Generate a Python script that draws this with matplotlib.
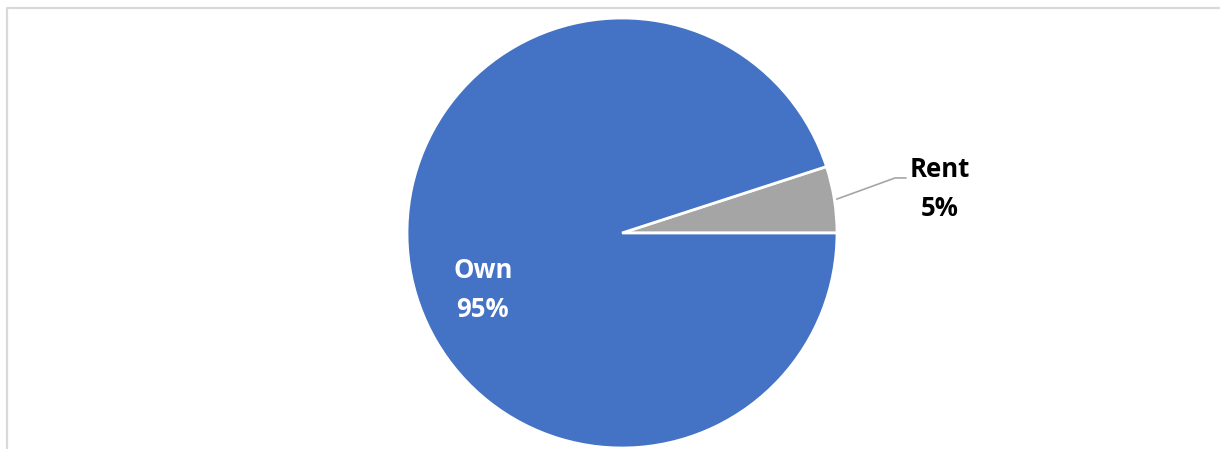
import matplotlib.pyplot as plt
from matplotlib.lines import Line2D

labels = ['Rent', 'Own']
values = [5, 95]
colors = ['#A5A5A5', '#4472C4']

W, H = 1220, 449
fig = plt.figure(figsize=(W / 100, H / 100), dpi=100)

# light frame: only the left and top edges fall inside the picture
fx, fy = 7 / W, 1 - 8 / H
fig.add_artist(Line2D([fx, fx, 1.0], [0, fy, fy], transform=fig.transFigure,
                      color='#D9D9D9', linewidth=1.6))

cx, cy, r = 622, 449 - 233, 215
ax = fig.add_axes([(cx - r) / W, (cy - r) / H, 2 * r / W, 2 * r / H])
ax.pie(values, colors=colors, startangle=0, counterclock=True, radius=1,
       wedgeprops=dict(edgecolor='white', linewidth=2))
ax.set_xlim(-1, 1)
ax.set_ylim(-1, 1)
ax.set_aspect('auto')
ax.axis('off')

font = ['Open Sans', 'DejaVu Sans']
ax.text(-0.647, -0.265, f'{labels[1]}\n{values[1]}%', color='white', ha='center',
        va='center', fontsize=18.5, fontweight='bold', family=font, linespacing=1.6)
ax.text(1.479, 0.205, f'{labels[0]}\n{values[0]}%', color='black', ha='center',
        va='center', fontsize=18.5, fontweight='bold', family=font, linespacing=1.6,
        clip_on=False)
ax.plot([1.0, 1.27, 1.32], [0.158, 0.256, 0.256], color='#A5A5A5', lw=1.2, clip_on=False)

fig.savefig('out.png', dpi=100)
